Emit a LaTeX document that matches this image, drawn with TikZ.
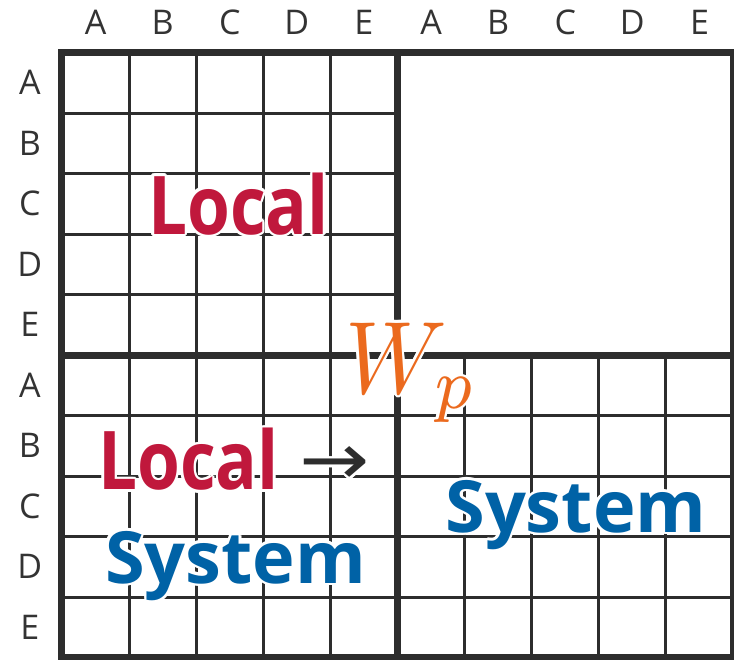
\documentclass[tikz,border=0pt]{standalone}
\usepackage{fontspec}
\setmainfont{Open Sans}
\newfontfamily\arrowfont{DejaVu Sans}
\usepackage{xcolor}
\definecolor{gridGray}{HTML}{2D2D2D}
\definecolor{labelGray}{HTML}{333333}
\definecolor{colorLocal}{HTML}{C0183C}
\definecolor{colorSystem}{HTML}{0062A6}
\definecolor{colorWeight}{HTML}{EB6A1E}
\usepackage{tikz}
\tikzset{
  gridline/.style={draw=gridGray, line width=3pt},
  frameline/.style={draw=gridGray, line width=7pt},
  axislabel/.style={text=labelGray, font=\fontsize{34}{34}\selectfont, inner sep=0pt},
  localtext/.style={text=colorLocal, font=\fontsize{81}{81}\selectfont\bfseries, inner sep=0pt, anchor=base west},
  systemtext/.style={text=colorSystem, font=\fontsize{72}{72}\selectfont\bfseries, inner sep=0pt, anchor=base west},
  arrowtext/.style={text=gridGray, font=\fontsize{80}{80}\selectfont\arrowfont, inner sep=0pt},
  weighttext/.style={text=colorWeight, inner sep=0pt, anchor=base west},
}
% text with a white halo over the grid
\newcommand{\glowlabel}[4]{%
  \foreach \ang in {0,30,...,330}
    \node[#3, text=white, shift={(\ang:2.5pt)}] at (#2) {#4};
  \node[#3] (#1) at (#2) {#4};
}
\newcommand{\localword}{\scalebox{0.855}[1]{Local}}

\begin{document}
\begin{tikzpicture}[x=67.1pt, y=-60.5pt]
\useasboundingbox (-62pt,52.5pt) rectangle (672pt,-606.5pt);
% thin grid lines
\foreach \i in {1,...,4} {
  \draw[gridline] (\i,0) -- (\i,10);
  \draw[gridline] (5+\i,5) -- (5+\i,10);
  \draw[gridline] (0,\i) -- (5,\i);
  \draw[gridline] (0,5+\i) -- (10,5+\i);
}
% block borders
\draw[frameline] (0,0) rectangle (10,10);
\draw[frameline] (5,0) -- (5,10);
\draw[frameline] (0,5) -- (10,5);
% headers
\foreach \c [count=\i from 0] in {A,B,C,D,E,A,B,C,D,E} {
  \node[axislabel] (col\i) at (\i+0.5,-0.5) {\c};
  \node[axislabel] (row\i) at (-0.48,\i+0.5) {\c};
}
\glowlabel{localTop}{1.28,3.0}{localtext}{\localword}
\glowlabel{localBottom}{0.537,7.23}{localtext}{\localword}
\glowlabel{arrow}{4.07,6.83}{arrowtext}{\scalebox{1.05}[0.9]{→}}
\glowlabel{systemLeft}{0.64,8.77}{systemtext}{System}
\glowlabel{systemRight}{5.71,7.93}{systemtext}{System}
\glowlabel{weight}{4.22,5.63}{weighttext}{\scalebox{9.4}[10.3]{$W_p$}}
\end{tikzpicture}
\end{document}
